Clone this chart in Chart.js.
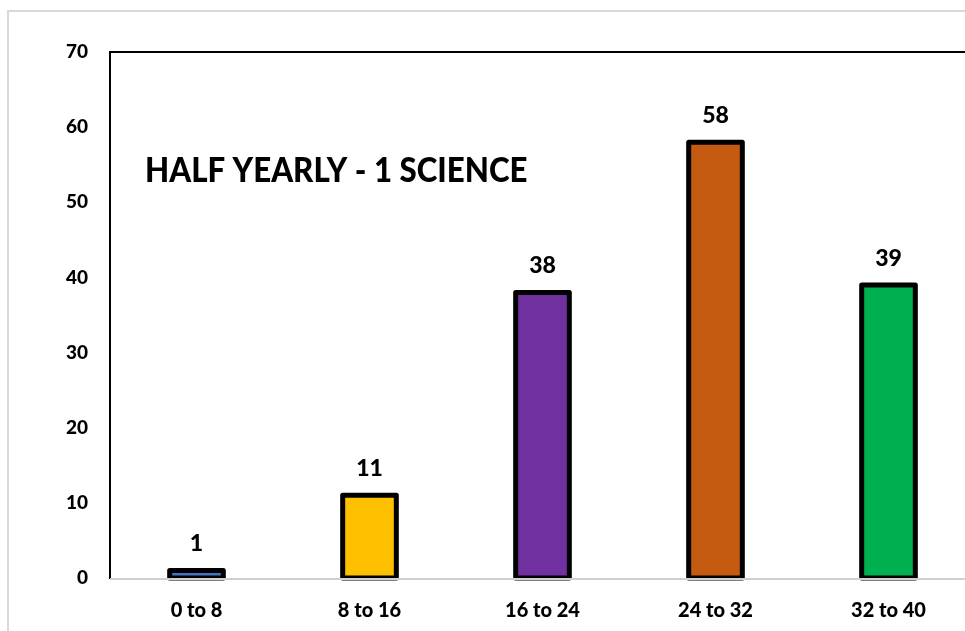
<!DOCTYPE html>
<html>
<head>
<meta charset="utf-8">
<script src="https://cdn.jsdelivr.net/npm/chart.js@4.4.1/dist/chart.umd.min.js"></script>
<style>
  html, body { margin: 0; padding: 0; background: #fff; overflow: hidden; }
  #frame { position: absolute; left: 7px; top: 10px; width: 1000px; height: 640px; border: 2px solid #d9d9d9; box-sizing: border-box; }
  #wrap { position: absolute; left: 0; top: 0; width: 985px; height: 631px; }
</style>
</head>
<body>
<div id="frame"></div>
<div id="wrap"><canvas id="chart"></canvas></div>
<script>
const categories = ["0 to 8", "8 to 16", "16 to 24", "24 to 32", "32 to 40"];
const students = [1, 11, 38, 58, 39];
const barColors = ["#4472C4", "#FFC000", "#7030A0", "#C55A11", "#00B050"];
const yTicks = [0, 10, 20, 30, 40, 50, 60, 70];
const chartTitle = "HALF YEARLY - 1 SCIENCE";
const fontFamily = "Lato, 'Open Sans', sans-serif";

// Excel-style outlines (stroke centred on the bar edge), labels and title
const extras = {
  id: "extras",
  afterDatasetsDraw(chart) {
    const ctx = chart.ctx;
    const area = chart.chartArea;
    const bars = chart.getDatasetMeta(0).data;
    ctx.save();
    ctx.strokeStyle = "#000";
    ctx.lineWidth = 5;
    ctx.lineJoin = "round";
    bars.forEach(bar => {
      const p = bar.getProps(["x", "y", "width", "base"], true);
      ctx.strokeRect(p.x - p.width / 2, p.y, p.width, p.base - p.y);
    });
    // x axis line over the bar bottoms
    ctx.strokeStyle = "#d0d0d0";
    ctx.lineWidth = 2;
    ctx.beginPath();
    ctx.moveTo(area.left, area.bottom + 1);
    ctx.lineTo(area.right, area.bottom + 1);
    ctx.stroke();
    // top border of plot
    ctx.strokeStyle = "#000";
    ctx.beginPath();
    ctx.moveTo(area.left, area.top);
    ctx.lineTo(area.right, area.top);
    ctx.stroke();
    // value labels
    ctx.fillStyle = "#000";
    ctx.font = "900 23px " + fontFamily;
    ctx.textAlign = "center";
    ctx.textBaseline = "alphabetic";
    bars.forEach((bar, i) => {
      ctx.fillText(students[i], bar.x, bar.y - 19);
    });
    // title inside plot
    ctx.font = "900 34px " + fontFamily;
    ctx.textAlign = "left";
    ctx.translate(145, 182);
    ctx.scale(0.92, 1);
    ctx.fillText(chartTitle, 0, 0);
    ctx.restore();
  }
};

new Chart(document.getElementById("chart"), {
  type: "bar",
  data: {
    labels: categories,
    datasets: [{
      data: students,
      backgroundColor: barColors,
      borderWidth: 0,
      barPercentage: 0.31,
      categoryPercentage: 1
    }]
  },
  options: {
    responsive: true,
    maintainAspectRatio: false,
    animation: false,
    layout: { padding: { top: 52, right: 10, left: 0, bottom: 0 } },
    plugins: {
      legend: { display: false },
      tooltip: { enabled: false }
    },
    scales: {
      x: {
        grid: { display: false, drawTicks: false },
        border: { display: false },
        ticks: { color: "#000", padding: 21, font: { family: fontFamily, size: 20, weight: 900 } },
        afterFit(scale) { scale.height = 53; }
      },
      y: {
        min: 0,
        max: 70,
        afterBuildTicks(scale) { scale.ticks = yTicks.map(v => ({ value: v })); },
        grid: { display: false, drawTicks: false },
        border: { display: true, color: "#000", width: 2 },
        ticks: { color: "#000", padding: 22, font: { family: fontFamily, size: 19, weight: 900 } },
        afterFit(scale) { scale.width = 110; }
      }
    }
  },
  plugins: [extras]
});
</script>
</body>
</html>
